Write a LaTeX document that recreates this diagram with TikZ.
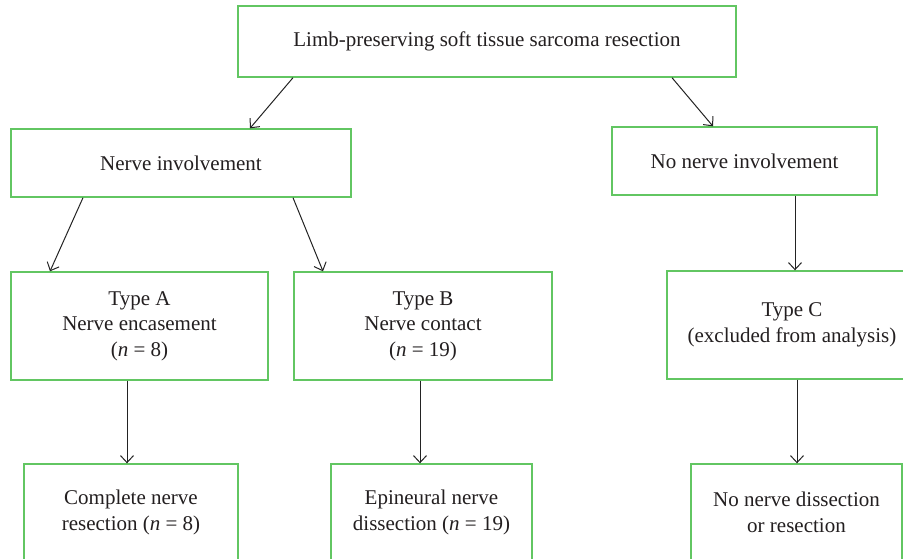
\documentclass[tikz,border=0pt]{standalone}
\usepackage{fontspec}
\setmainfont{Liberation Serif}
\usetikzlibrary{arrows.meta,positioning}
\definecolor{boxgreen}{RGB}{98,198,98}
\definecolor{arrowgray}{RGB}{35,35,35}
\definecolor{textgray}{RGB}{35,31,32}

\begin{document}
\begin{tikzpicture}[
    x=1pt, y=-1pt,
    box/.style={draw=boxgreen, line width=1.4pt, fill=white, align=center, inner sep=0pt,
      text=textgray, font=\fontsize{21}{25.5}\selectfont},
    link/.style={draw=arrowgray, line width=1pt, -{Straight Barb[length=7pt,width=13pt]}}
  ]
    \useasboundingbox (0,0) rectangle (903,558);
    \clip (0,0) rectangle (903,558);

    \node[box, minimum width=498pt, minimum height=71pt] (top) at (487,41.5)
      {Limb-preserving soft tissue sarcoma resection};

    \node[box, minimum width=340pt, minimum height=68pt] (ni) at (181,163) {Nerve involvement};
    \node[box, minimum width=265pt, minimum height=68pt] (nni) at (744.5,161) {No nerve involvement};

    \node[box, minimum width=257pt, minimum height=108pt] (typea) at (139.5,326)
      {Type A\\Nerve encasement\\(\textit{n} = 8)};
    \node[box, minimum width=258pt, minimum height=108pt] (typeb) at (423,326)
      {Type B\\Nerve contact\\(\textit{n} = 19)};
    \node[box, minimum width=250pt, minimum height=108pt] (typec) at (792,325)
      {Type C\\(excluded from analysis)};

    \node[box, minimum width=214pt, minimum height=97pt] (resect) at (131,512.5)
      {Complete nerve\\resection (\textit{n} = 8)};
    \node[box, minimum width=201pt, minimum height=97pt] (dissect) at (431.5,512.5)
      {Epineural nerve\\dissection (\textit{n} = 19)};
    \node[box, minimum width=211pt, minimum height=97pt] (nonerve) at (796.5,512.5)
      {No nerve dissection\\or resection};

    \draw[link] ([xshift=-194pt]top.south) -- ([xshift=69pt]ni.north);
    \draw[link] ([xshift=185pt]top.south) -- ([xshift=-31.5pt]nni.north);
    \draw[link] ([xshift=-98pt]ni.south) -- ([xshift=-89.5pt]typea.north);
    \draw[link] ([xshift=112pt]ni.south) -- ([xshift=-100pt]typeb.north);
    \draw[link] ([xshift=50.5pt]nni.south) -- ([xshift=3pt]typec.north);
    \draw[link] ([xshift=-12.5pt]typea.south) -- ([xshift=-4pt]resect.north);
    \draw[link] ([xshift=-3pt]typeb.south) -- ([xshift=-11.5pt]dissect.north);
    \draw[link] ([xshift=5pt]typec.south) -- ([xshift=0.5pt]nonerve.north);
\end{tikzpicture}
\end{document}
